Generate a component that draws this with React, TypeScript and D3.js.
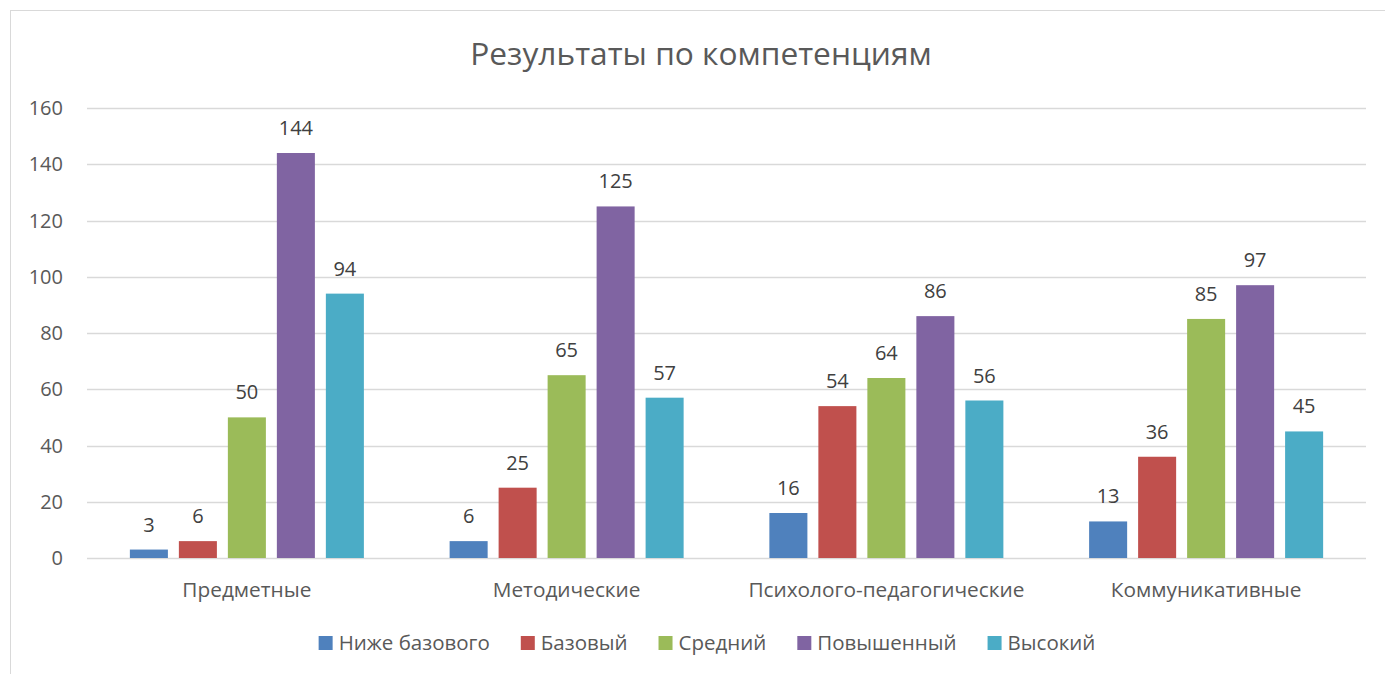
import React, { useRef, useEffect } from 'react';
import * as d3 from 'd3';

const categories = ['Предметные', 'Методические', 'Психолого-педагогические', 'Коммуникативные'];
const seriesNames = ['Ниже базового', 'Базовый', 'Средний', 'Повышенный', 'Высокий'];
const seriesColors = ['#4F81BD', '#C0504D', '#9BBB59', '#8064A2', '#4BACC6'];
// values per series, in category order
const nizheBazovogo = [3, 6, 16, 13];
const bazovyi = [6, 25, 54, 36];
const srednii = [50, 65, 64, 85];
const povyshennyi = [144, 125, 86, 97];
const vysokii = [94, 57, 56, 45];
const yTicks = [0, 20, 40, 60, 80, 100, 120, 140, 160];

const seriesValues = [nizheBazovogo, bazovyi, srednii, povyshennyi, vysokii];

export default function App() {
  const svgRef = useRef<SVGSVGElement>(null);
  const width = 1385;
  const height = 674;

  useEffect(() => {
    document.body.style.margin = '0';
    const svg = d3.select(svgRef.current);
    svg.selectAll('*').remove();

    const font = "'Open Sans', sans-serif";
    const textColor = '#595959';
    const fs = 20;
    const left = 87, right = 1366, top = 108, bottom = 558;

    // рамка диаграммы
    svg.append('rect')
      .attr('x', 10.5).attr('y', 10.5)
      .attr('width', width + 20).attr('height', height + 20)
      .attr('fill', 'white').attr('stroke', '#D9D9D9');

    svg.append('text')
      .attr('x', 701).attr('y', 65)
      .attr('text-anchor', 'middle')
      .attr('font-family', font).attr('font-size', 31.7)
      .attr('fill', textColor)
      .text('Результаты по компетенциям');

    const y = d3.scaleLinear().domain([0, 160]).range([bottom, top]);
    const x0 = d3.scaleBand().domain(categories).range([left, right]).padding(0);
    const x1 = d3.scaleBand().domain(seriesNames).range([0, x0.bandwidth()])
      .paddingInner(0.224).paddingOuter(0.875);

    // сетка
    svg.append('g').selectAll('line').data(yTicks).enter().append('line')
      .attr('x1', left).attr('x2', right)
      .attr('y1', d => Math.round(y(d)) + 0.5).attr('y2', d => Math.round(y(d)) + 0.5)
      .attr('stroke', '#D9D9D9').attr('stroke-width', 1.3);

    svg.append('g').selectAll('text').data(yTicks).enter().append('text')
      .attr('x', 63).attr('y', d => y(d)).attr('dy', '0.35em')
      .attr('text-anchor', 'end')
      .attr('font-family', font).attr('font-size', fs)
      .attr('fill', textColor)
      .text(d => d);

    // столбцы
    const groups = svg.append('g').selectAll('g').data(categories).enter().append('g')
      .attr('transform', d => `translate(${x0(d)},0)`);

    const rows = (_: string, ci: number) =>
      seriesNames.map((s, si) => ({ s, si, v: seriesValues[si][ci] }));

    groups.selectAll('rect')
      .data(rows)
      .enter().append('rect')
      .attr('x', d => x1(d.s)!)
      .attr('width', x1.bandwidth())
      .attr('y', d => y(d.v))
      .attr('height', d => bottom - y(d.v))
      .attr('fill', d => seriesColors[d.si]);

    groups.selectAll('text.lbl')
      .data(rows)
      .enter().append('text')
      .attr('class', 'lbl')
      .attr('x', d => x1(d.s)! + x1.bandwidth() / 2)
      .attr('y', d => y(d.v) - 18)
      .attr('text-anchor', 'middle')
      .attr('font-family', font).attr('font-size', fs)
      .attr('fill', '#404040')
      .text(d => d.v);

    // подписи категорий
    svg.append('g').selectAll('text').data(categories).enter().append('text')
      .attr('x', d => x0(d)! + x0.bandwidth() / 2)
      .attr('y', 597)
      .attr('text-anchor', 'middle')
      .attr('font-family', font).attr('font-size', 20.8)
      .attr('fill', textColor)
      .text(d => d);

    // легенда
    const legend = svg.append('g');
    const items = legend.selectAll('g').data(seriesNames).enter().append('g');
    items.append('rect')
      .attr('width', 14).attr('height', 14).attr('y', 636)
      .attr('fill', (_, i) => seriesColors[i]);
    items.append('text')
      .attr('x', 20).attr('y', 650)
      .attr('font-family', font).attr('font-size', 20.5)
      .attr('fill', textColor)
      .text(d => d);
    const widths: number[] = [];
    items.select('text').each(function () {
      widths.push((this as SVGTextElement).getComputedTextLength());
    });
    const gap = 31;
    const itemW = widths.map(w => 20 + w);
    const total = d3.sum(itemW) + gap * (itemW.length - 1);
    let cx = 707 - total / 2;
    items.attr('transform', (_, i) => {
      const t = `translate(${cx},0)`;
      cx += itemW[i] + gap;
      return t;
    });
  }, []);

  return <svg ref={svgRef} width={width} height={height} style={{ display: 'block' }} />;
}
